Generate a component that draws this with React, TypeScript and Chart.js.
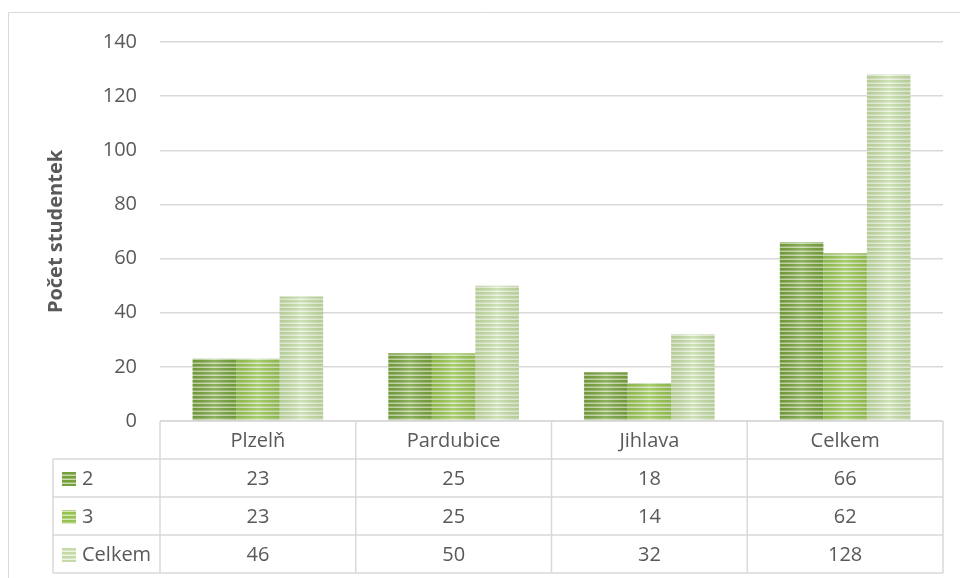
import React, { useEffect, useRef } from "react";
import { Chart, registerables } from "chart.js";

Chart.register(...registerables);

// Category labels shown in the header row of the data table
const categories = ["Plzelň", "Pardubice", "Jihlava", "Celkem"];

// Series names (row headers of the data table)
const seriesNames = ["2", "3", "Celkem"];

// Number of students per category
const values2 = [23, 25, 18, 66];
const values3 = [23, 25, 14, 62];
const valuesTotal = [46, 50, 32, 128];

// Value axis
const yMin = 0;
const yMax = 140;
const yStep = 20;
const yTitle = "Počet studentek";

const FONT = "'Open Sans', 'DejaVu Sans', sans-serif";
const TEXT = "#595959";
const LINE = "#d9d9d9";

// Striped fill for each series: [main, mid, light stripe]
const stripeColors: [string, string, string][] = [
  ["#76a03c", "#9cba70", "#cadcb2"],
  ["#97c251", "#b4d483", "#d6e8bf"],
  ["#c4dba5", "#d6e7c2", "#edf4e4"],
];

function makeStripe(main: string, mid: string, light: string): CanvasPattern | string {
  const c = document.createElement("canvas");
  c.width = 8;
  c.height = 4;
  const g = c.getContext("2d");
  if (!g) return main;
  g.fillStyle = main;
  g.fillRect(0, 0, 8, 2);
  g.fillStyle = mid;
  g.fillRect(0, 2, 8, 1);
  g.fillStyle = light;
  g.fillRect(0, 3, 8, 1);
  const p = g.createPattern(c, "repeat");
  return p || main;
}

// Soft horizontal shading across every bar (darker edges, lighter middle)
const barShadePlugin = {
  id: "barShade",
  afterDatasetsDraw(chart: any) {
    const ctx: CanvasRenderingContext2D = chart.ctx;
    ctx.save();
    chart.data.datasets.forEach((_: any, di: number) => {
      const meta = chart.getDatasetMeta(di);
      meta.data.forEach((bar: any) => {
        const { x, y, base, width } = bar.getProps(["x", "y", "base", "width"], true);
        const l = x - width / 2;
        const g = ctx.createLinearGradient(l, 0, l + width, 0);
        g.addColorStop(0, "rgba(60,80,30,0.10)");
        g.addColorStop(0.5, "rgba(255,255,255,0.18)");
        g.addColorStop(1, "rgba(60,80,30,0.10)");
        ctx.fillStyle = g;
        ctx.fillRect(l, Math.min(y, base), width, Math.abs(base - y));
      });
    });
    ctx.restore();
  },
};

// Data table drawn under the plot area, aligned with the category scale
const dataTablePlugin = {
  id: "dataTable",
  afterDraw(chart: any) {
    const ctx: CanvasRenderingContext2D = chart.ctx;
    const area = chart.chartArea;
    const xs = chart.scales.x;
    const n = categories.length;
    const colW = (area.right - area.left) / n;
    const rowH = 38;
    const top = area.bottom;
    const legendLeft = 53;
    const fills = chart.data.datasets.map((d: any) => d.backgroundColor);

    ctx.save();
    // outer frame of the chart object
    ctx.strokeStyle = LINE;
    ctx.lineWidth = 1;
    ctx.beginPath();
    ctx.moveTo(8.5, chart.height);
    ctx.lineTo(8.5, 12.5);
    ctx.lineTo(chart.width, 12.5);
    ctx.stroke();

    // table grid
    ctx.lineWidth = 1.5;
    ctx.beginPath();
    ctx.moveTo(area.left, top);
    ctx.lineTo(area.right, top);
    for (let r = 1; r <= seriesNames.length + 1; r++) {
      const y = top + r * rowH;
      ctx.moveTo(legendLeft, y);
      ctx.lineTo(area.right, y);
    }
    for (let i = 0; i <= n; i++) {
      const x = area.left + i * colW;
      ctx.moveTo(x, top);
      ctx.lineTo(x, top + (seriesNames.length + 1) * rowH);
    }
    ctx.moveTo(legendLeft, top + rowH);
    ctx.lineTo(legendLeft, top + (seriesNames.length + 1) * rowH);
    ctx.stroke();

    // text
    ctx.fillStyle = TEXT;
    ctx.font = `20px ${FONT}`;
    ctx.textBaseline = "middle";
    ctx.textAlign = "center";
    categories.forEach((c, i) => {
      ctx.fillText(c, xs.getPixelForValue(i), top + rowH / 2 + 1);
    });
    const rows = [values2, values3, valuesTotal];
    rows.forEach((vals, r) => {
      const cy = top + (r + 1) * rowH + rowH / 2 + 1;
      vals.forEach((v, i) => {
        ctx.textAlign = "center";
        ctx.fillStyle = TEXT;
        ctx.fillText(String(v), xs.getPixelForValue(i), cy);
      });
      // legend key
      ctx.fillStyle = fills[r];
      ctx.fillRect(legendLeft + 9, cy - 7, 14, 14);
      ctx.fillStyle = TEXT;
      ctx.textAlign = "left";
      ctx.fillText(seriesNames[r], legendLeft + 29, cy);
    });
    ctx.restore();
  },
};

export default function App() {
  const ref = useRef<HTMLCanvasElement | null>(null);

  useEffect(() => {
    const canvas = ref.current;
    if (!canvas) return;
    const fills = stripeColors.map(([a, b, c]) => makeStripe(a, b, c));
    const chart = new Chart(canvas, {
      type: "bar",
      data: {
        labels: categories,
        datasets: [
          { label: seriesNames[0], data: values2, backgroundColor: fills[0] as any, borderWidth: 0 },
          { label: seriesNames[1], data: values3, backgroundColor: fills[1] as any, borderWidth: 0 },
          { label: seriesNames[2], data: valuesTotal, backgroundColor: fills[2] as any, borderWidth: 0 },
        ],
      },
      options: {
        responsive: false,
        animation: false,
        devicePixelRatio: 1,
        layout: { padding: { left: 40, top: 42, right: 17, bottom: 157 } },
        datasets: { bar: { categoryPercentage: 0.667, barPercentage: 1 } },
        plugins: {
          legend: { display: false },
          tooltip: { enabled: false },
        },
        scales: {
          x: { display: false },
          y: {
            min: yMin,
            max: yMax,
            afterFit: (s: any) => {
              s.width = 120;
            },
            ticks: {
              stepSize: yStep,
              padding: 23,
              color: TEXT,
              font: { family: FONT, size: 20 },
            },
            grid: { color: LINE, lineWidth: 1.5, drawTicks: false },
            border: { display: false },
            title: {
              display: true,
              text: yTitle,
              color: TEXT,
              font: { family: FONT, size: 20, weight: "bold" },
            },
          },
        },
      },
      plugins: [barShadePlugin, dataTablePlugin],
    });
    return () => chart.destroy();
  }, []);

  return (
    <div style={{ position: "fixed", left: 0, top: 0, width: 960, height: 578, background: "#fff" }}>
      <canvas ref={ref} width={960} height={578} style={{ display: "block" }} />
    </div>
  );
}
